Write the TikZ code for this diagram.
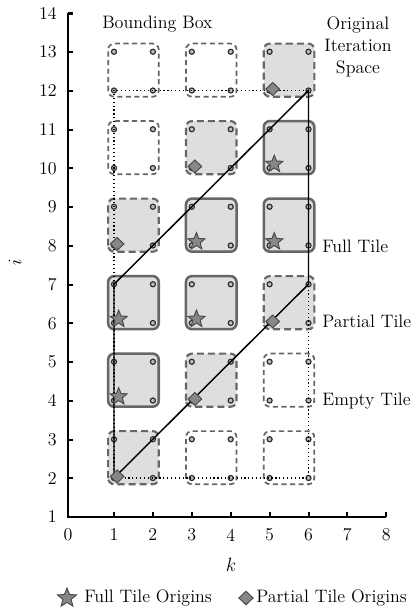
\documentclass[tikz,border=0pt]{standalone}
\usetikzlibrary{shapes.geometric,calc}
\definecolor{tilefill}{gray}{0.87}
\definecolor{tileedge}{gray}{0.4}
\definecolor{markfill}{gray}{0.53}
\definecolor{markedge}{gray}{0.28}
\definecolor{dotedge}{gray}{0.18}
\tikzset{
  axisline/.style={line width=1.5pt, black},
  full tile/.style={draw=tileedge, fill=tilefill, line width=1.9pt, rounded corners=4.5pt},
  partial tile/.style={draw=tileedge, fill=tilefill, line width=1.6pt, rounded corners=4.5pt, dash pattern=on 5.3pt off 3pt},
  empty tile/.style={draw=tileedge, fill=white, line width=1.3pt, rounded corners=4.5pt, dash pattern=on 3.8pt off 2.6pt},
  latdot/.style={circle, draw=dotedge, fill=gray!50, line width=0.9pt, inner sep=0pt, minimum size=3.8pt},
  startmark/.style={star, star points=5, star point ratio=2.3, draw=markedge, fill=markfill, line width=0.7pt, inner sep=0pt, minimum size=13.5pt},
  diamark/.style={diamond, draw=markedge, fill=markfill, line width=0.7pt, inner sep=0pt, minimum width=10.5pt, minimum height=10pt},
  bboxline/.style={dotted, line width=0.9pt, black},
  spaceline/.style={line width=1.1pt, black},
  lbl/.style={inner sep=0pt}
}
\begin{document}
\begin{tikzpicture}[x=0.75pt,y=-0.75pt, font=\fontsize{13.5}{16.2}\selectfont]
\useasboundingbox (0,0) rectangle (412,610);
% axes
\coordinate (O) at (68,517);
\coordinate (Xend) at (386,517);
\coordinate (Yend) at (68,14);
\draw[axisline] (Xend) -- (O) -- (Yend) -- ++(5,0);
\node[lbl] (x0) at (68,535) {0};
\foreach \k in {1,...,8}{
  \draw[axisline] ({114+38.9*(\k-1)},517) -- ++(0,-5);
  \node[lbl] (x\k) at ({114+38.9*(\k-1)},535) {\k};
}
\foreach \i in {1,...,14}{
  \draw[axisline] (68,{517-38.75*(\i-1)}) -- ++(5,0);
  \node[lbl, anchor=east] (y\i) at (57,{517-38.75*(\i-1)}) {\i};
}
\node[lbl] (klabel) at (231,565) {$k$};
\node[lbl, rotate=90] (ilabel) at (15,262) {$i$};
% data scope
\begin{scope}[shift={(75.1,555.5)}, x=29.175pt, y=29.0625pt]
  \foreach \k/\i/\t in {1/2/partial, 3/2/empty, 5/2/empty, 1/4/full, 3/4/partial, 5/4/empty,
                        1/6/full, 3/6/full, 5/6/partial, 1/8/partial, 3/8/full, 5/8/full,
                        1/10/empty, 3/10/partial, 5/10/full, 1/12/empty, 3/12/empty, 5/12/partial}{
    \draw[\t\space tile] (\k-0.15,\i-0.16) rectangle (\k+1.15,\i+1.21);
  }
  \foreach \k in {1,...,6}{
    \foreach \i in {2,...,13}{
      \coordinate (c\k-\i) at (\k,\i);
      \node[latdot] (d\k-\i) at (c\k-\i) {};
    }
  }
  \draw[bboxline] (c1-2) rectangle (c6-12);
  \draw[spaceline] (c1-2) -- (c6-7) -- (c6-12) -- (c1-7) -- cycle;
  \foreach \k/\i in {1/4, 1/6, 3/6, 3/8, 5/8, 5/10}{
    \node[startmark] (s\k-\i) at ($(c\k-\i)+(0.12,0.1)$) {};
  }
  \foreach \k/\i in {1/2, 3/4, 5/6, 1/8, 3/10, 5/12}{
    \node[diamark] (m\k-\i) at ($(c\k-\i)+(0.08,0.04)$) {};
  }
\end{scope}
% labels
\node[lbl, anchor=west] (bbox) at (102,24) {Bounding Box};
\node[lbl, align=center] (orig) at (358,47) {Original\\Iteration\\Space};
\node[lbl, anchor=west] (fullt) at (322,246) {Full Tile};
\node[lbl, anchor=west] (partt) at (322,321) {Partial Tile};
\node[lbl, anchor=west] (emptt) at (322,401) {Empty Tile};
% legend
\node[startmark, minimum size=15pt] (legstar) at (67,598) {};
\node[lbl, anchor=west] (legfull) at (84,598) {Full Tile Origins};
\node[diamark, minimum width=11pt, minimum height=10.5pt] (legdia) at (246,598) {};
\node[lbl, anchor=west] (legpart) at (256,598) {Partial Tile Origins};
\end{tikzpicture}
\end{document}
